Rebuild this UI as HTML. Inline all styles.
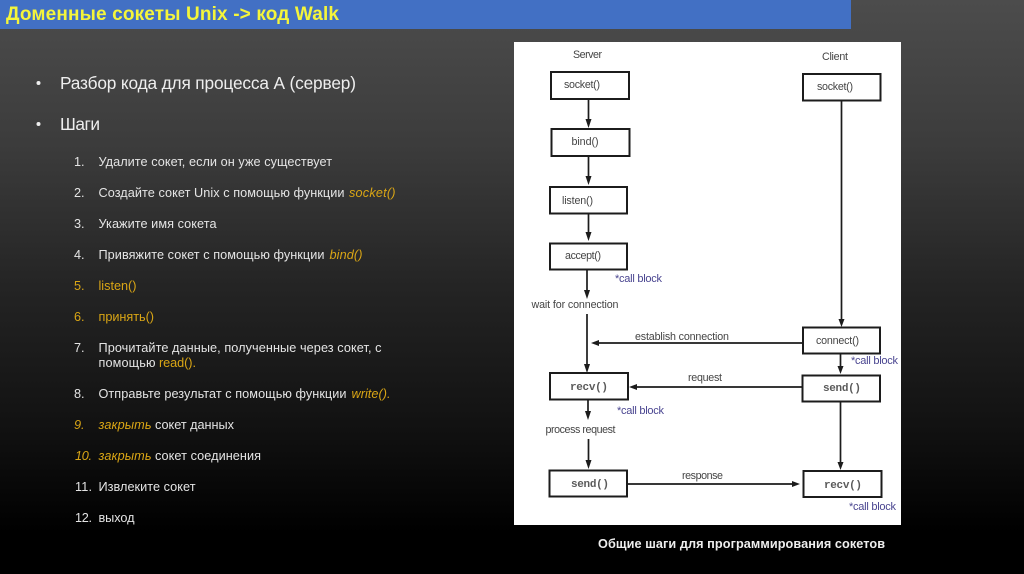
<!DOCTYPE html>
<html lang="ru"><head><meta charset="utf-8"><title>Доменные сокеты Unix</title>
<style>
html,body{margin:0;padding:0;background:#000;width:1024px;height:574px;overflow:hidden}
svg{display:block}
text{font-family:"Liberation Sans",sans-serif}
.l text{font-size:12.700px;fill:#e4e4e4}
.l text.o{fill:#d9a514}
.i{font-style:italic}
.d text{font-size:10.700px;fill:#444}
text.m{font-family:"Liberation Mono",monospace;font-size:11px;font-weight:bold;fill:#5a5a5a}
text.c{fill:#4a4590;font-size:11px}
.b{fill:#fff;stroke:#1c1c1c;stroke-width:2}
.a{stroke:#1c1c1c;stroke-width:1.7;fill:none}
.h{fill:#1c1c1c}
</style></head><body>
<svg width="1024" height="574" viewBox="0 0 1024 574" xmlns="http://www.w3.org/2000/svg">
<defs>
<linearGradient id="g" x1="0" y1="0" x2="0" y2="1">
<stop offset="0" stop-color="#4c4c4c"/><stop offset="0.25" stop-color="#3c3c3c"/><stop offset="0.5" stop-color="#242424"/><stop offset="0.75" stop-color="#111"/><stop offset="0.93" stop-color="#000"/><stop offset="1" stop-color="#000"/>
</linearGradient>
<filter id="s" x="-5%" y="-5%" width="110%" height="110%"><feGaussianBlur stdDeviation="0.35"/></filter>
</defs>
<rect width="1024" height="574" fill="url(#g)"/>
<rect x="0" y="0" width="851" height="29" fill="#4270c4"/>
<g filter="url(#s)">
<text x="6" y="20" font-size="19" font-weight="bold" fill="#f4f53a" textLength="333">Доменные сокеты Unix -&gt; код Walk</text>
<circle cx="38.500" cy="83" r="2" fill="#eee"/>
<circle cx="38.500" cy="124" r="2" fill="#eee"/>
<text x="60" y="89" font-size="17.300" fill="#eee" textLength="296">Разбор кода для процесса А (сервер)</text>
<text x="60" y="130" font-size="17.300" fill="#eee" textLength="40">Шаги</text>
<g class="l">
<text x="74" y="166">1.</text><text x="98.500" y="166" textLength="233.500">Удалите сокет, если он уже существует</text>
<text x="74" y="197">2.</text><text x="98.500" y="197" textLength="246">Создайте сокет Unix с помощью функции</text><text x="349" y="197" class="o i" textLength="46.500">socket()</text>
<text x="74" y="228">3.</text><text x="98.500" y="228" textLength="118">Укажите имя сокета</text>
<text x="74" y="259">4.</text><text x="98.500" y="259" textLength="226">Привяжите сокет с помощью функции</text><text x="329.500" y="259" class="o i" textLength="33">bind()</text>
<text x="74" y="290" class="o">5.</text><text x="98.500" y="290" class="o" textLength="38">listen()</text>
<text x="74" y="321" class="o">6.</text><text x="98.500" y="321" class="o" textLength="55.500">принять()</text>
<text x="74" y="352">7.</text><text x="98.500" y="352" textLength="283">Прочитайте данные, полученные через сокет, с</text>
<text x="98.500" y="367" textLength="57">помощью</text><text x="159" y="367" class="o" textLength="37">read().</text>
<text x="74" y="398">8.</text><text x="98.500" y="398" textLength="248">Отправьте результат с помощью функции</text><text x="351.500" y="398" class="o i" textLength="39">write().</text>
<text x="74" y="429" class="o i">9.</text><text x="98.500" y="429" class="o i" textLength="53">закрыть</text><text x="155" y="429" textLength="79">сокет данных</text>
<text x="75" y="460" class="o i" textLength="17">10.</text><text x="98.500" y="460" class="o i" textLength="53">закрыть</text><text x="155" y="460" textLength="106">сокет соединения</text>
<text x="75" y="491" textLength="17">11.</text><text x="98.500" y="491" textLength="97">Извлеките сокет</text>
<text x="75" y="522" textLength="17">12.</text><text x="98.500" y="522" textLength="36">выход</text>
</g>
</g>
<rect x="514" y="42" width="387" height="483" fill="#fff"/>
<g filter="url(#s)">
<rect class="b" x="551" y="72" width="78" height="27"/>
<rect class="b" x="551.500" y="129" width="78" height="27"/>
<rect class="b" x="550" y="187" width="77" height="26.500"/>
<rect class="b" x="550" y="243.500" width="77" height="26"/>
<rect class="b" x="803" y="74" width="77.500" height="26.500"/>
<rect class="b" x="803" y="327.500" width="77" height="26"/>
<rect class="b" x="802.500" y="375.500" width="77.500" height="26"/>
<rect class="b" x="550" y="373" width="78" height="26.500"/>
<rect class="b" x="549.500" y="470.500" width="77.500" height="26"/>
<rect class="b" x="803.500" y="471" width="78" height="26"/>

<path class="a" d="M588.500 99V122M588.500 156V178M588.500 213.500V235M587 270V292M587 314V368M588 400V414M588.500 439V462M841.500 101V321M840.500 354V369M840.500 402V464M802 343H598M802 387H635M627 484H795"/>
<path class="h" d="M585.500 119h6l-3 9zM585.500 176h6l-3 9zM585.500 232h6l-3 9zM584 290h6l-3 9zM584 364h6l-3 9zM585 411h6l-3 9zM585.500 460h6l-3 9zM838.500 319h6l-3 8zM837.500 366h6l-3 8zM837.500 462h6l-3 8zM591 343l8-3v6zM629 387l8-3v6zM800 484l-8-3v6z"/>

<g class="d">
<text x="573" y="58" textLength="29">Server</text>
<text x="822" y="60" textLength="26">Client</text>
<text x="564" y="88" textLength="36">socket()</text>
<text x="571.500" y="145" textLength="27">bind()</text>
<text x="562" y="204" textLength="31">listen()</text>
<text x="565" y="259" textLength="36">accept()</text>
<text x="817" y="90" textLength="36">socket()</text>
<text x="531.500" y="308" textLength="87">wait for connection</text>
<text x="635" y="340" textLength="94">establish connection</text>
<text x="816" y="344" textLength="43">connect()</text>
<text x="688" y="381" textLength="34">request</text>
<text x="545.500" y="433" textLength="70">process request</text>
<text x="682" y="479" textLength="41">response</text>
</g>
<text class="m" x="570" y="390" textLength="38">recv()</text>
<text class="m" x="823" y="391" textLength="38">send()</text>
<text class="m" x="571" y="487" textLength="38">send()</text>
<text class="m" x="824" y="488" textLength="38">recv()</text>
<text class="c" x="615" y="282" textLength="47">*call block</text>
<text class="c" x="851" y="364" textLength="47">*call block</text>
<text class="c" x="617" y="414" textLength="47">*call block</text>
<text class="c" x="849" y="510" textLength="47">*call block</text>
</g>
<text x="598" y="548" font-size="12.700" font-weight="bold" fill="#eee" textLength="287" filter="url(#s)">Общие шаги для программирования сокетов</text>
</svg>
</body></html>
